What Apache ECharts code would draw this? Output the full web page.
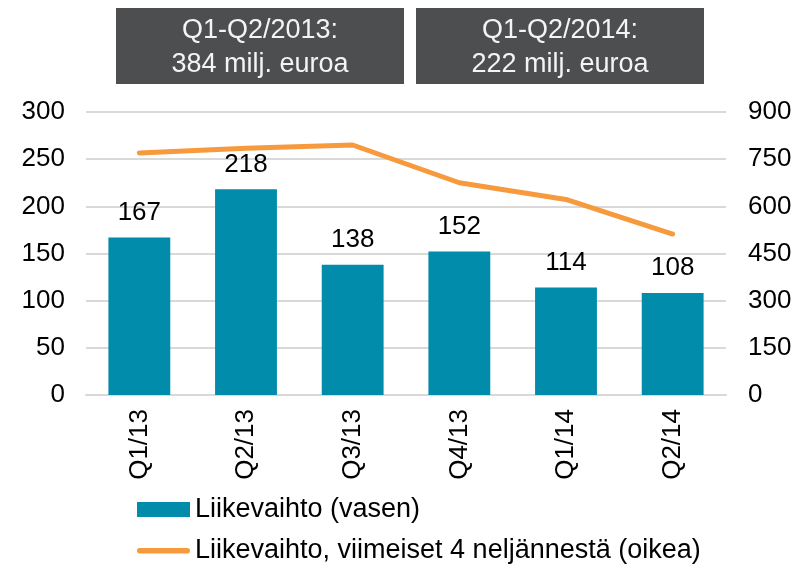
<!DOCTYPE html>
<html>
<head>
<meta charset="utf-8">
<script src="https://cdn.jsdelivr.net/npm/echarts@6/dist/echarts.min.js"></script>
<style>
html,body{margin:0;padding:0;background:#fff;}
#main{width:809px;height:569px;}
</style>
</head>
<body>
<div id="main"></div>
<script>
var categories = ['Q1/13', 'Q2/13', 'Q3/13', 'Q4/13', 'Q1/14', 'Q2/14'];
var revenue = [167, 218, 138, 152, 114, 108];
var rolling4 = [770, 785, 795, 675, 622, 512];
var leftTicks = [0, 50, 100, 150, 200, 250, 300];
var rightTicks = [0, 150, 300, 450, 600, 750, 900];
var seriesNames = ['Liikevaihto (vasen)', 'Liikevaihto, viimeiset 4 neljännestä (oikea)'];
var boxTexts = ['Q1-Q2/2013:\n384 milj. euroa', 'Q1-Q2/2014:\n222 milj. euroa'];

var FONT = '"Liberation Sans", Arial, sans-serif';
var FS = 26;
var FS_BIG = 27;
var chart = echarts.init(document.getElementById('main'), null, {renderer: 'canvas'});

var boxGeom = [[116, 8, 288, 76], [416, 8, 288, 76]];
var graphics = boxTexts.map(function (t, i) {
  var g = boxGeom[i];
  return {
    type: 'group', left: g[0], top: g[1],
    children: [
      {type: 'rect', shape: {x: 0, y: 0, width: g[2], height: g[3]}, style: {fill: '#4d4e50'}},
      {type: 'text', x: g[2] / 2, y: g[3] / 2 + 2,
        style: {text: t, fill: '#f4f4f4', font: FS_BIG + 'px ' + FONT, align: 'center', verticalAlign: 'middle', lineHeight: 34}}
    ]
  };
});

var lineIcon = 'path://M0,0 L0.01,0 L0.01,0.01 Z M2,5 L51,5 A2.75,2.75 0 0 1 51,10.5 L2,10.5 A2.75,2.75 0 0 1 2,5 Z M0,15 L0.01,15 L0.01,14.99 Z';

chart.setOption({
  backgroundColor: '#ffffff',
  animation: false,
  textStyle: {fontFamily: FONT},
  grid: {left: 86, right: 83, top: 112, bottom: 174, containLabel: false},
  graphic: graphics,
  legend: {
    orient: 'vertical', left: 137, top: 496, padding: 0, height: 80,
    itemWidth: 53, itemHeight: 15, itemGap: 14,
    textStyle: {fontSize: FS_BIG, color: '#000', fontFamily: FONT},
    data: [
      {name: seriesNames[0], icon: 'rect'},
      {name: seriesNames[1], icon: lineIcon}
    ]
  },
  xAxis: {
    type: 'category', data: categories,
    axisLine: {show: true, lineStyle: {color: '#d9d9d9', width: 2}},
    axisTick: {show: false},
    axisLabel: {rotate: 90, fontSize: FS, color: '#000', margin: 14, fontFamily: FONT}
  },
  yAxis: [
    {type: 'value', min: leftTicks[0], max: leftTicks[leftTicks.length - 1], interval: 50,
      axisLine: {show: false}, axisTick: {show: false},
      axisLabel: {fontSize: FS, color: '#000', margin: 21, fontFamily: FONT},
      splitLine: {lineStyle: {color: '#d9d9d9', width: 2}}},
    {type: 'value', min: rightTicks[0], max: rightTicks[rightTicks.length - 1], interval: 150,
      axisLine: {show: false}, axisTick: {show: false},
      axisLabel: {fontSize: FS, color: '#000', margin: 22, fontFamily: FONT},
      splitLine: {show: false}}
  ],
  series: [
    {name: seriesNames[0], type: 'bar', data: revenue, yAxisIndex: 0,
      barWidth: '58%',
      itemStyle: {color: '#008caa'},
      label: {show: true, position: 'top', distance: 12, fontSize: FS, color: '#000', fontFamily: FONT}},
    {name: seriesNames[1], type: 'line', data: rolling4, yAxisIndex: 1,
      symbol: 'none',
      lineStyle: {color: '#f79a3e', width: 5, cap: 'round', join: 'round'},
      itemStyle: {color: '#f79a3e'}}
  ]
});
</script>
</body>
</html>
